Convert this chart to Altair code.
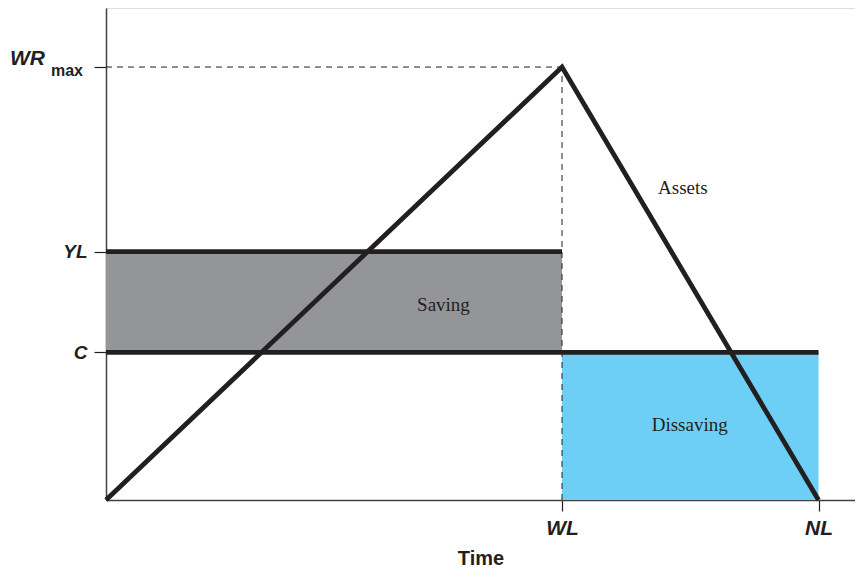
import altair as alt
import pandas as pd

# ---- values ----
WL = 40          # end of working life
NL = 62.5        # end of life
X_END = 65.7     # right end of the time axis
C = 30           # consumption level
YL = 50.5        # labour income level
WR_MAX = 88      # peak wealth
Y_TOP = 100

asset_t = [0, WL, NL]
asset_w = [0, WR_MAX, 0]

x_tick_values = [WL, NL]
x_tick_labels = ["WL", "NL"]
y_tick_values = [C, YL, WR_MAX]
y_tick_labels = ["C", "YL", ""]

area_names = ["Saving", "Dissaving"]
area_x = [0, WL]
area_x2 = [WL, NL]
area_y = [C, 0]
area_y2 = [YL, C]
area_colors = ["#939598", "#6dcff6"]

level_y = [YL, C]
level_x = [0, 0]
level_x2 = [WL, NL]

dash_x = [0, WL]
dash_x2 = [WL, WL]
dash_y = [WR_MAX, 0]
dash_y2 = [WR_MAX, WR_MAX]

note_text = ["Saving", "Assets", "Dissaving"]
note_x = [29.6, 50.6, 51.2]
note_y = [39.6, 63.4, 15.3]

INK = "#231f20"
SANS = "Liberation Sans"

def label_expr(values, labels):
    parts = [f"datum.value == {v} ? '{l}'" for v, l in zip(values, labels)]
    return " : ".join(parts) + " : ''"

xscale = alt.Scale(domain=[0, X_END], nice=False, zero=False)
yscale = alt.Scale(domain=[0, Y_TOP], nice=False, zero=False)

x_axis = alt.Axis(
    values=x_tick_values, labelExpr=label_expr(x_tick_values, x_tick_labels),
    grid=False, tickSize=11, tickColor=INK, tickWidth=1.2,
    domainColor="#414042", domainWidth=1.5,
    labelFont=SANS, labelFontSize=21, labelFontWeight="bold",
    labelFontStyle="italic", labelColor=INK, labelPadding=6,
    title="Time", titleFont=SANS, titleFontSize=20,
    titleFontWeight="bold", titleColor=INK, titlePadding=10,
)
y_axis = alt.Axis(
    values=y_tick_values, labelExpr=label_expr(y_tick_values, y_tick_labels),
    grid=False, tickSize=12, tickColor=INK, tickWidth=1.2,
    domainColor="#414042", domainWidth=1.5,
    labelFont=SANS, labelFontSize=19, labelFontWeight="bold",
    labelFontStyle="italic", labelColor=INK, labelPadding=7, title=None,
)

areas = pd.DataFrame({"name": area_names, "x": area_x, "x2": area_x2,
                      "y": area_y, "y2": area_y2, "color": area_colors})
levels = pd.DataFrame({"y": level_y, "x": level_x, "x2": level_x2})
dashes = pd.DataFrame({"x": dash_x, "x2": dash_x2, "y": dash_y, "y2": dash_y2})
assets = pd.DataFrame({"t": asset_t, "w": asset_w})
notes = pd.DataFrame({"text": note_text, "x": note_x, "y": note_y})
peak = pd.DataFrame({"y": [WR_MAX]})

rects = alt.Chart(areas).mark_rect().encode(
    x=alt.X("x:Q", scale=xscale, axis=x_axis),
    x2="x2:Q",
    y=alt.Y("y:Q", scale=yscale, axis=y_axis),
    y2="y2:Q",
    color=alt.Color("color:N", scale=None),
)

dash_rules = alt.Chart(dashes).mark_rule(
    color=INK, strokeWidth=1, strokeDash=[6, 5]
).encode(x="x:Q", x2="x2:Q", y="y:Q", y2="y2:Q")

level_rules = alt.Chart(levels).mark_rule(
    color=INK, strokeWidth=4.8, strokeCap="butt"
).encode(x="x:Q", x2="x2:Q", y="y:Q")

asset_line = alt.Chart(assets).mark_line(
    color=INK, strokeWidth=4.8, strokeJoin="miter", strokeCap="butt"
).encode(x="t:Q", y="w:Q")

note_marks = alt.Chart(notes).mark_text(
    font="Liberation Serif", fontSize=19, color=INK, align="center", baseline="middle"
).encode(x="x:Q", y="y:Q", text="text:N")

wr_text = alt.Chart(peak).mark_text(
    text="WR", font=SANS, fontSize=21, fontWeight="bold",
    fontStyle="italic", color=INK, align="right", baseline="alphabetic", dy=-2
).encode(x=alt.value(-61), y="y:Q")

max_text = alt.Chart(peak).mark_text(
    text="max", font=SANS, fontSize=16, fontWeight="bold",
    color=INK, align="right", baseline="alphabetic", dy=9
).encode(x=alt.value(-23), y="y:Q")

chart = alt.layer(
    rects, dash_rules, level_rules, asset_line, note_marks, wr_text, max_text
).properties(
    width=749, height=492,
    autosize=alt.AutoSizeParams(type="none"),
    padding={"left": 98, "top": 0, "right": 0, "bottom": 69},
).configure_view(stroke=None).configure(background="white")

chart.save("out.html", embed_options={"renderer": "svg", "actions": False})
